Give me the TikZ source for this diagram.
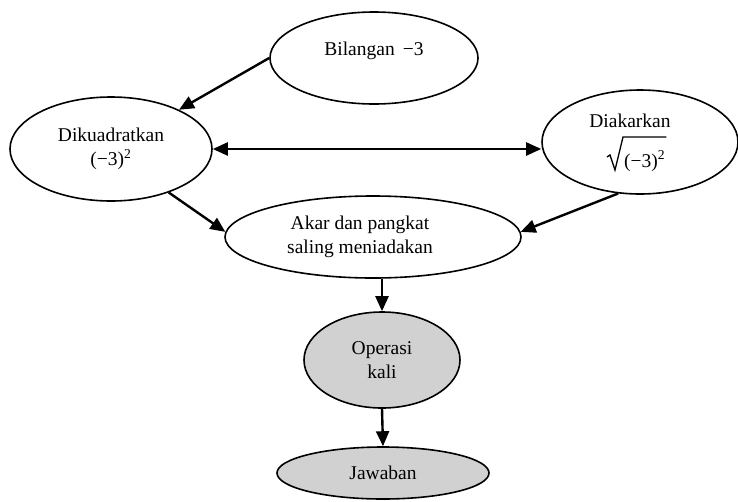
\documentclass[tikz,border=0pt]{standalone}
\usepackage{fontspec}
\setmainfont{Liberation Serif}
\usetikzlibrary{arrows.meta,shapes.geometric}
\begin{document}
\begin{tikzpicture}[x=1pt,y=-1pt,
  txt/.style={inner sep=0pt, align=center, font=\fontsize{19.5}{24}\selectfont},
  bub/.style={ellipse, draw, line width=1.6pt, inner sep=0pt, align=center,
              font=\fontsize{19.5}{24}\selectfont},
  shaded/.style={bub, fill=black!18},
  arr/.style={line width=2.4pt, -{Triangle[length=15pt,width=13pt]}},
  dbl/.style={line width=2.4pt, {Triangle[length=15pt,width=13pt]}-{Triangle[length=15pt,width=13pt]}}]
\useasboundingbox (0,0) rectangle (738,501);
\node[bub, minimum width=208pt, minimum height=92pt] (bil) at (374,58) {Bilangan \,−3\\[-6pt]\mbox{}};
\node[bub, minimum width=202pt, minimum height=104pt] (dik) at (111,149) {Dikuadratkan\\(−3)\textsuperscript{2}};
\node[bub, minimum width=196pt, minimum height=104pt] (dia) at (640,142) {};
\node[txt, anchor=base] (diat) at (630,127) {Diakarkan};
\node[txt, anchor=base west] (sq) at (624,167) {(−3)\textsuperscript{2}};
\draw[line width=1.3pt, line join=miter]
  ([shift={(-17,-10)}]sq.base west) -- ([shift={(-14,-12)}]sq.base west)
  -- ([shift={(-9,3)}]sq.base west) -- ([shift={(-1,-30)}]sq.base west)
  -- ([shift={(1,-30)}]sq.base east);
\node[bub, minimum width=296pt, minimum height=82pt] (akar) at (373,237) {Akar dan pangkat\hspace*{26pt}\\saling meniadakan\hspace*{26pt}};
\node[shaded, minimum width=156pt, minimum height=96pt] (ope) at (382,360) {Operasi\\kali};
\node[shaded, minimum width=212pt, minimum height=52pt] (jaw) at (383,473) {Jawaban};
\draw[arr] (bil.west) -- (dik.30);
\draw[dbl] (dik.east) -- (dik.east -| dia.west);
\draw[arr] (dik.-37) -- (akar.178);
\draw[arr] (dia.247) -- (akar.2);
\draw[arr] (akar.south -| ope.north) -- (ope.north);
\draw[arr] (ope.south) -- (jaw.north);
\end{tikzpicture}
\end{document}
